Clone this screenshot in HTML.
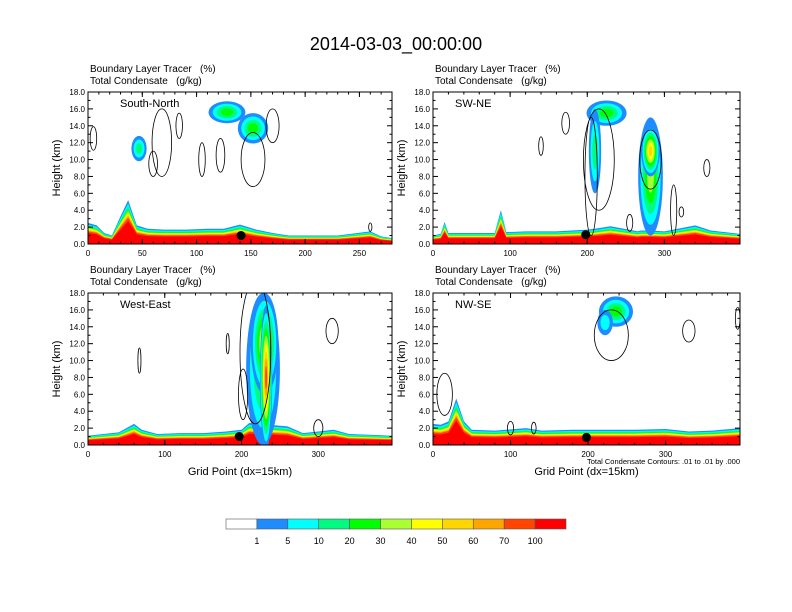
<!DOCTYPE html>
<html><head><meta charset="utf-8"><style>
body{margin:0;background:#fff;}
svg{display:block;font-family:"Liberation Sans",Arial,sans-serif;}
text{white-space:pre;}
</style></head><body>
<svg id="fig" width="792" height="612" viewBox="0 0 792 612">
<text x="396" y="50" font-size="18" text-anchor="middle">2014-03-03_00:00:00</text>
<g id="panels"></g>
<g id="cbar"></g>
</svg>
<script>
const colors=["#ffffff","#1e8cff","#00ffff","#00fa82","#00ff00","#aaff32","#ffff00","#ffd700","#ffa500","#ff4500","#ff0000"];
const cbarLabels=["1","5","10","20","30","40","50","60","70","100"];
const yTicks=[0,2,4,6,8,10,12,14,16,18];
// panel 1 South-North
const p1Name="South-North"; const p1Xmax=280; const p1XTicks=[0,50,100,150,200,250];
const p1BlX=[0,8,15,22,30,37,45,55,70,90,110,125,140,155,170,185,200,230,260,270,280];
const p1BlTop=[2.5,2.2,1.3,1.0,3.3,5.2,2.2,1.8,1.7,1.7,1.8,1.8,2.3,1.7,1.3,1.0,1.0,1.0,1.5,0.9,0.7];
const p1PlX=[47,128,152]; const p1PlY=[11.3,15.6,13.7]; const p1PlRx=[7,17,14]; const p1PlRy=[1.5,1.3,1.8]; const p1PlLev=[3,4,4];
const p1CX=[5,68,60,84,105,122,152,170,260]; const p1CY=[12.5,12,9.5,14,10,10.5,10,14,2]; const p1CRx=[3,9,4,3,3,4,11,6,1.5]; const p1CRy=[1.4,4,1.5,1.5,2,2,3.2,2,0.5];
const p1Dot=[141,1.0];
// panel 2 SW-NE
const p2Name="SW-NE"; const p2Xmax=398; const p2XTicks=[0,100,200,300];
const p2BlX=[0,10,15,20,60,80,88,95,120,160,200,210,230,260,265,270,280,300,340,360,398];
const p2BlTop=[1.0,1.2,2.6,1.3,1.3,1.3,4.0,1.4,1.5,1.5,1.7,1.8,2.1,1.6,1.5,1.6,1.6,1.5,2.2,1.6,1.2];
const p2PlX=[225,210,282,282]; const p2PlY=[15.5,11,8,11]; const p2PlRx=[26,8,16,12]; const p2PlRy=[1.5,5,7,3]; const p2PlLev=[4,3,5,7];
const p2CX=[172,140,205,215,255,312,282,355,322]; const p2CY=[14.3,11.6,8,10,2.5,4,10,9,3.8]; const p2CRx=[5,3,8,20,4,4,14,4,3]; const p2CRy=[1.3,1.1,7,6,1,3,3.5,1,0.6];
const p2Dot=[198,1.1];
// panel 3 West-East
const p3Name="West-East"; const p3Xmax=396; const p3XTicks=[0,100,200,300];
const p3BlX=[0,20,40,60,70,90,120,150,180,200,210,260,280,300,320,340,370,396];
const p3BlTop=[1.1,1.3,1.5,2.5,1.8,1.3,1.4,1.4,1.6,1.8,2.6,2.2,1.4,1.6,1.8,1.3,1.2,1.1];
const p3PlX=[228,230,232]; const p3PlY=[9,12,8]; const p3PlRx=[22,18,8]; const p3PlRy=[9,6,8.5]; const p3PlLev=[4,6,9];
const p3CX=[67,218,182,318,300,202]; const p3CY=[10,11,12,13.5,2,6]; const p3CRx=[2,20,2,8,6,6]; const p3CRy=[1.5,8.5,1.2,1.5,1,3];
const p3Dot=[197,1.0];
// panel 4 NW-SE
const p4Name="NW-SE"; const p4Xmax=396; const p4XTicks=[0,100,200,300];
const p4BlX=[0,10,20,30,40,50,80,120,140,180,220,260,300,330,360,396];
const p4BlTop=[2.5,2.4,2.8,5.5,2.8,1.8,1.7,2.0,1.7,1.8,1.8,1.8,1.9,1.6,1.7,2.0];
const p4PlX=[236,222]; const p4PlY=[15.8,14.5]; const p4PlRx=[22,10]; const p4PlRy=[1.8,1.5]; const p4PlLev=[4,2];
const p4CX=[15,230,330,393,100,130]; const p4CY=[6,13,13.5,15,2,2]; const p4CRx=[10,22,8,3,4,3]; const p4CRy=[2.5,3,1.3,1.3,0.8,0.7];
const p4Dot=[198,0.9];
const NS="http://www.w3.org/2000/svg";
function mk(t,a,p){const e=document.createElementNS(NS,t);for(const k in a)e.setAttribute(k,a[k]);p.appendChild(e);return e;}
const panels=[
 {n:p1Name,xm:p1Xmax,xt:p1XTicks,minor:10,bx:p1BlX,bt:p1BlTop,px:p1PlX,py:p1PlY,prx:p1PlRx,pry:p1PlRy,pl:p1PlLev,cx:p1CX,cy:p1CY,crx:p1CRx,cry:p1CRy,dot:p1Dot,L:88,R:392,T:92,B:244,gx:false},
 {n:p2Name,xm:p2Xmax,xt:p2XTicks,minor:20,bx:p2BlX,bt:p2BlTop,px:p2PlX,py:p2PlY,prx:p2PlRx,pry:p2PlRy,pl:p2PlLev,cx:p2CX,cy:p2CY,crx:p2CRx,cry:p2CRy,dot:p2Dot,L:433,R:740,T:92,B:244,gx:false},
 {n:p3Name,xm:p3Xmax,xt:p3XTicks,minor:20,bx:p3BlX,bt:p3BlTop,px:p3PlX,py:p3PlY,prx:p3PlRx,pry:p3PlRy,pl:p3PlLev,cx:p3CX,cy:p3CY,crx:p3CRx,cry:p3CRy,dot:p3Dot,L:88,R:392,T:293,B:445,gx:true},
 {n:p4Name,xm:p4Xmax,xt:p4XTicks,minor:20,bx:p4BlX,bt:p4BlTop,px:p4PlX,py:p4PlY,prx:p4PlRx,pry:p4PlRy,pl:p4PlLev,cx:p4CX,cy:p4CY,crx:p4CRx,cry:p4CRy,dot:p4Dot,L:433,R:740,T:293,B:445,gx:true}];
const fracs=[1,0.92,0.86,0.8,0.76,0.72,0.68,0.64,0.6,0.52];
const root=document.getElementById('panels');
panels.forEach((P,pi)=>{
 const g=mk('g',{},root);
 
 
 const X=v=>P.L+(v/P.xm)*(P.R-P.L), Y=v=>P.B-(v/18)*(P.B-P.T);
 const t1=mk('text',{x:P.L+2,y:P.T-20,'font-size':10},g);t1.textContent="Boundary Layer Tracer   (%)";
 
 const t2=mk('text',{x:P.L+2,y:P.T-8,'font-size':10},g);t2.textContent="Total Condensate   (g/kg)";
 
 const clip=mk('clipPath',{id:'c'+pi},g);mk('rect',{x:P.L,y:P.T,width:P.R-P.L,height:P.B-P.T},clip);
 const d=mk('g',{'clip-path':'url(#c'+pi+')'},g);
 fracs.forEach((f,i)=>{
  let pts=P.bx.map((x,j)=>X(x)+','+Y(P.bt[j]*f)).join(' ');
  pts+=' '+X(P.xm)+','+P.B+' '+X(0)+','+P.B;
  const pg=mk('polygon',{points:pts,fill:colors[i+1]},d);
  
 });
 P.px.forEach((x,j)=>{
  for(let l=1;l<=P.pl[j];l++){
   const s=1-(l-1)/(P.pl[j]+0.5);
   const e=mk('ellipse',{cx:X(x),cy:Y(P.py[j]),rx:Math.max(1,(P.prx[j]*s)/P.xm*(P.R-P.L)),ry:P.pry[j]*s/18*(P.B-P.T),fill:colors[l]},d);
   
  }
 });
 P.cx.forEach((x,j)=>{
  const e=mk('ellipse',{cx:X(x),cy:Y(P.cy[j]),rx:P.crx[j]/P.xm*(P.R-P.L),ry:P.cry[j]/18*(P.B-P.T),fill:'none',stroke:'#000','stroke-width':0.8},d);
  
 });
 const dt=mk('circle',{cx:X(P.dot[0]),cy:Y(P.dot[1]),r:4.5,fill:'#000'},d);
 
 const fr=mk('rect',{x:P.L,y:P.T,width:P.R-P.L,height:P.B-P.T,fill:'none',stroke:'#000','stroke-width':1},g);
 
 const lb=mk('text',{x:P.L+(pi%2?22:32),y:P.T+15,'font-size':11},g);lb.textContent=P.n;
 
 yTicks.forEach(v=>{
  mk('line',{x1:P.L,x2:P.L+5,y1:Y(v),y2:Y(v),stroke:'#000'},g);mk('line',{x1:P.R,x2:P.R-5,y1:Y(v),y2:Y(v),stroke:'#000'},g);
  const t=mk('text',{x:P.L-3,y:Y(v)+3,'font-size':8,'text-anchor':'end'},g);t.textContent=v.toFixed(1);
  
 });
 for(let v=1;v<18;v+=2){mk('line',{x1:P.L,x2:P.L+2.5,y1:Y(v),y2:Y(v),stroke:'#000'},g);mk('line',{x1:P.R,x2:P.R-2.5,y1:Y(v),y2:Y(v),stroke:'#000'},g);}
 for(let v=0;v<=P.xm;v+=P.minor){mk('line',{x1:X(v),x2:X(v),y1:P.B,y2:P.B-2.5,stroke:'#000'},g);mk('line',{x1:X(v),x2:X(v),y1:P.T,y2:P.T+2.5,stroke:'#000'},g);}
 P.xt.forEach(v=>{
  mk('line',{x1:X(v),x2:X(v),y1:P.B,y2:P.B-5,stroke:'#000'},g);mk('line',{x1:X(v),x2:X(v),y1:P.T,y2:P.T+5,stroke:'#000'},g);
  const t=mk('text',{x:X(v),y:P.B+12,'font-size':8,'text-anchor':'middle'},g);t.textContent=v;
  
 });
 const yl=mk('text',{x:0,y:0,'font-size':11,'text-anchor':'middle',transform:`translate(${P.L-28},${(P.T+P.B)/2}) rotate(-90)`},g);yl.textContent="Height (km)";
 
 if(P.gx){const xl=mk('text',{x:(P.L+P.R)/2,y:P.B+30,'font-size':11,'text-anchor':'middle'},g);xl.textContent="Grid Point (dx=15km)";
  }
 if(pi===3){const n=mk('text',{x:P.R,y:P.B+19,'font-size':7.5,'text-anchor':'end'},g);n.textContent="Total Condensate Contours: .01 to .01 by .000";
  }
});
const cb=document.getElementById('cbar');const cx0=226,cw=340/11;
colors.forEach((c,i)=>{const r=mk('rect',{x:cx0+i*cw,y:519,width:cw,height:10,fill:c,stroke:'#555','stroke-width':0.6},cb);
 });
cbarLabels.forEach((l,i)=>{const t=mk('text',{x:cx0+(i+1)*cw,y:544,'font-size':9,'text-anchor':'middle'},cb);t.textContent=l;
 });
</script>
</body></html>
